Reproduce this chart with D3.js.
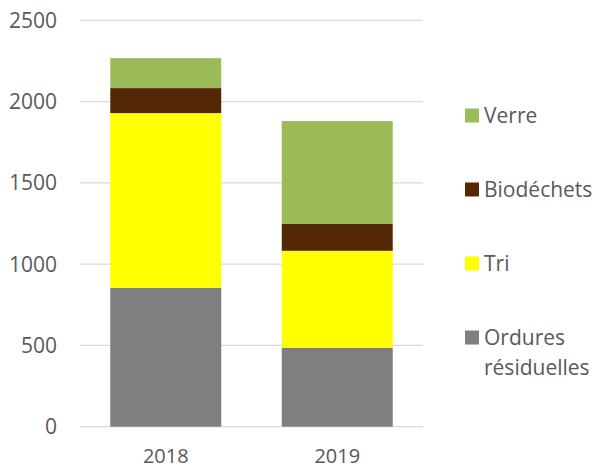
<!DOCTYPE html>
<html>
<head>
<meta charset="utf-8">
<script src="https://cdn.jsdelivr.net/npm/d3@7"></script>
<style>
  body { margin: 0; background: #fff; }
  text { font-family: "Open Sans", "Liberation Sans", sans-serif; fill: #595959; }
</style>
</head>
<body>
<svg></svg>
<script>
const years = ["2018", "2019"];
const ordures = [855, 486];
const tri = [1074, 596];
const biodechets = [154, 165];
const verre = [184, 633];
const yTicks = [0, 500, 1000, 1500, 2000, 2500];

const keys = ["ordures", "tri", "biodechets", "verre"];
const labels = { ordures: ["Ordures", "résiduelles"], tri: ["Tri"], biodechets: ["Biodéchets"], verre: ["Verre"] };
const colors = { ordures: "#7f7f7f", tri: "#ffff00", biodechets: "#542807", verre: "#9bbb59" };

const width = 594, height = 469;
const x0 = 80, x1 = 423, yTop = 20.3, yBottom = 426.7;

const rows = years.map((y, i) => ({
  year: y, ordures: ordures[i], tri: tri[i], biodechets: biodechets[i], verre: verre[i]
}));

const svg = d3.select("svg").attr("width", width).attr("height", height);

const x = d3.scaleBand().domain(years).range([x0, x1]).paddingInner(0.353).paddingOuter(0.1765);
const y = d3.scaleLinear().domain([0, 2500]).range([yBottom, yTop]);

// grille
svg.append("g")
  .selectAll("line")
  .data(yTicks)
  .enter()
  .append("line")
  .attr("x1", x0).attr("x2", x1)
  .attr("y1", d => y(d)).attr("y2", d => y(d))
  .attr("stroke", "#d9d9d9")
  .attr("stroke-width", 1.3);

// labels axe Y
svg.append("g")
  .selectAll("text")
  .data(yTicks)
  .enter()
  .append("text")
  .attr("x", 57)
  .attr("y", d => y(d))
  .attr("dy", "0.36em")
  .attr("text-anchor", "end")
  .style("font-size", "21px")
  .text(d => d);

// barres empilées
const stack = d3.stack().keys(keys);
svg.append("g")
  .selectAll("g")
  .data(stack(rows))
  .enter()
  .append("g")
  .attr("fill", d => colors[d.key])
  .selectAll("rect")
  .data(d => d)
  .enter()
  .append("rect")
  .attr("x", d => x(d.data.year))
  .attr("width", x.bandwidth())
  .attr("y", d => y(d[1]))
  .attr("height", d => y(d[0]) - y(d[1]));

// labels axe X
svg.append("g")
  .selectAll("text")
  .data(years)
  .enter()
  .append("text")
  .attr("x", d => x(d) + x.bandwidth() / 2)
  .attr("y", 463)
  .attr("text-anchor", "middle")
  .style("font-size", "20px")
  .text(d => d);

// légende
const legendOrder = ["verre", "biodechets", "tri", "ordures"];
const lg = svg.append("g")
  .selectAll("g")
  .data(legendOrder)
  .enter()
  .append("g")
  .attr("transform", (d, i) => "translate(465," + (108.5 + i * 74) + ")");

lg.append("rect")
  .attr("width", 14).attr("height", 14)
  .attr("fill", d => colors[d]);

lg.append("text")
  .attr("y", 7)
  .style("font-size", "21px")
  .selectAll("tspan")
  .data(d => labels[d])
  .enter()
  .append("tspan")
  .attr("x", 19)
  .attr("dy", (d, i) => i === 0 ? "0.36em" : "30px")
  .text(d => d);
</script>
</body>
</html>
